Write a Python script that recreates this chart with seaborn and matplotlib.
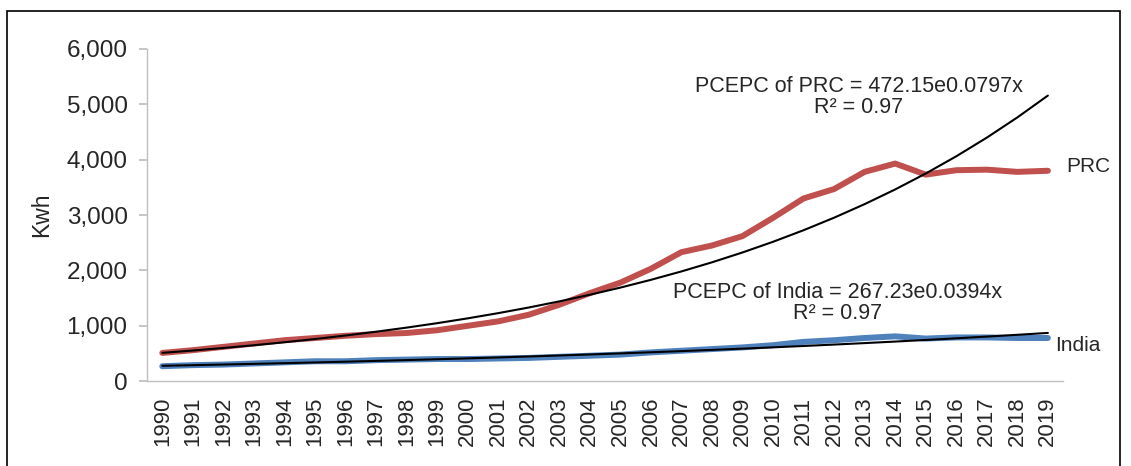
import numpy as np
import pandas as pd
import seaborn as sns
import matplotlib.pyplot as plt
from matplotlib.patches import Rectangle

# datos (Kwh per cápita)
years = list(range(1990, 2020))
prc = [510, 560, 620, 680, 740, 780, 820, 850, 870, 920,
       1000, 1080, 1200, 1380, 1590, 1780, 2030, 2330, 2450, 2620,
       2950, 3300, 3470, 3780, 3930, 3730, 3810, 3820, 3780, 3800]
india = [270, 290, 300, 320, 340, 360, 360, 380, 390, 400,
         400, 410, 420, 440, 460, 480, 520, 550, 580, 610,
         650, 710, 740, 780, 810, 770, 790, 790, 780, 780]

# coeficientes de las líneas de tendencia (exponencial)
prc_fit = (472.15, 0.0797)
india_fit = (267.23, 0.0394)

sns.set_theme(style="white")
plt.rcParams['font.family'] = ['Liberation Sans', 'DejaVu Sans']

df = pd.DataFrame({
    'year': years * 2,
    'kwh': prc + india,
    'country': ['PRC'] * len(years) + ['India'] * len(years),
})

fig = plt.figure(figsize=(11.31, 4.66), dpi=100)
ax = fig.add_axes([0.130, 0.182, 0.810, 0.713])

sns.lineplot(data=df, x='year', y='kwh', hue='country',
             palette={'PRC': '#C0504D', 'India': '#4F81BD'},
             linewidth=4.3, legend=False, ax=ax)

# tendencias
xs = np.arange(1, len(years) + 1)
ax.plot(years, prc_fit[0] * np.exp(prc_fit[1] * xs), color='black', lw=1.5)
ax.plot(years, india_fit[0] * np.exp(india_fit[1] * xs), color='black', lw=1.5)

ax.set_xlim(1989.5, 2019.5)
ax.set_ylim(0, 6000)
ax.set_yticks(range(0, 6001, 1000))
ax.set_yticklabels([f'{v:,}' for v in range(0, 6001, 1000)], fontsize=17.5)
ax.set_xticks(years)
ax.set_xticklabels([str(y) for y in years], rotation=90, fontsize=16)
ax.set_xlabel('')
ax.set_ylabel('Kwh', fontsize=16.5, labelpad=10)

for s in ['top', 'right']:
    ax.spines[s].set_visible(False)
for s in ['left', 'bottom']:
    ax.spines[s].set_color('#BFBFBF')
    ax.spines[s].set_linewidth(1)
ax.tick_params(axis='y', length=6, color='#BFBFBF', left=True, pad=8)
ax.tick_params(axis='x', length=0, pad=11)

ax.text(2019.6, 3870, 'PRC', fontsize=15, va='center', ha='left')
ax.text(2019.25, 640, 'India', fontsize=15, va='center', ha='left')

ax.text(2012.8, 5140, 'PCEPC of PRC = 472.15e0.0797x\nR² = 0.97',
        fontsize=15.5, ha='center', va='center', linespacing=1.0)
ax.text(2012.1, 1410, 'PCEPC of India = 267.23e0.0394x\nR² = 0.97',
        fontsize=15.5, ha='center', va='center', linespacing=1.0)

# marco
fig.patches.append(Rectangle((7 / 1131, -0.02), 1113 / 1131, 1 - 11 / 466 + 0.02,
                             transform=fig.transFigure, fill=False,
                             edgecolor='black', lw=1.2))

fig.savefig('out.png', dpi=100)
